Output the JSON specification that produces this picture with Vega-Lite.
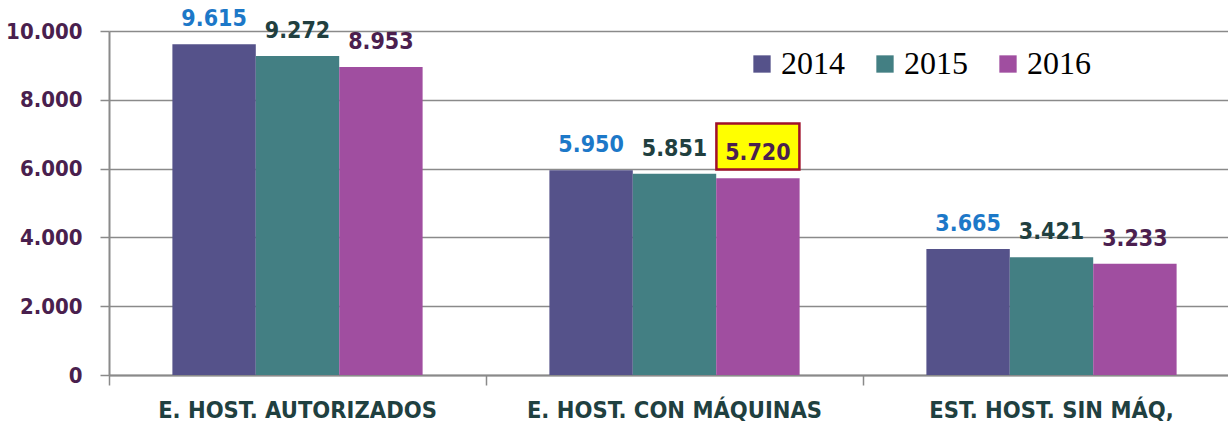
{
  "$schema": "https://vega.github.io/schema/vega-lite/v6.json",
  "width": 1119,
  "height": 344,
  "autosize": {"type": "none"},
  "padding": {"left": 109, "top": 31, "right": 0, "bottom": 57},
  "background": "white",
  "config": {
    "view": {"stroke": null},
    "locale": {"number": {"decimal": ",", "thousands": ".", "grouping": [3], "currency": ["", " €"]}}
  },
  "data": {
    "values": [
      {"category": "E. HOST. AUTORIZADOS", "year": "2014", "value": 9615},
      {"category": "E. HOST. AUTORIZADOS", "year": "2015", "value": 9272},
      {"category": "E. HOST. AUTORIZADOS", "year": "2016", "value": 8953},
      {"category": "E. HOST. CON MÁQUINAS", "year": "2014", "value": 5950},
      {"category": "E. HOST. CON MÁQUINAS", "year": "2015", "value": 5851},
      {"category": "E. HOST. CON MÁQUINAS", "year": "2016", "value": 5720},
      {"category": "EST. HOST. SIN MÁQ,", "year": "2014", "value": 3665},
      {"category": "EST. HOST. SIN MÁQ,", "year": "2015", "value": 3421},
      {"category": "EST. HOST. SIN MÁQ,", "year": "2016", "value": 3233}
    ]
  },
  "encoding": {
    "x": {
      "field": "category", "type": "nominal", "sort": null,
      "scale": {"range": [0, 1131], "paddingInner": 0, "paddingOuter": 0},
      "axis": {
        "title": null, "labelAngle": 0, "bandPosition": 0, "labelLimit": 0,
        "tickSize": 10, "tickColor": "#8a8a8a", "tickWidth": 1.5,
        "domainColor": "#8a8a8a", "domainWidth": 2,
        "labelFont": "DejaVu Sans Condensed, Liberation Sans", "labelFontWeight": "bold",
        "labelFontSize": 23.5, "labelColor": "#1f4040", "labelPadding": 13
      }
    },
    "xOffset": {
      "field": "year", "type": "nominal",
      "scale": {"paddingInner": 0, "paddingOuter": 0.76}
    },
    "y": {
      "field": "value", "type": "quantitative",
      "scale": {"domain": [0, 10000], "nice": false},
      "axis": {
        "title": null, "values": [0, 2000, 4000, 6000, 8000, 10000], "format": ",.0f",
        "grid": true, "gridColor": "#8a8a8a", "gridWidth": 1.5,
        "domainColor": "#8a8a8a", "domainWidth": 2,
        "tickSize": 9, "tickColor": "#8a8a8a", "tickWidth": 1.5,
        "labelFont": "DejaVu Sans Condensed, Liberation Sans", "labelFontWeight": "bold",
        "labelFontSize": 22, "labelColor": "#4a1f4e", "labelPadding": 18
      }
    }
  },
  "layer": [
    {
      "mark": {"type": "bar"},
      "encoding": {
        "color": {
          "field": "year", "type": "nominal",
          "scale": {"domain": ["2014", "2015", "2016"], "range": ["#55528a", "#437f83", "#a04ea0"]},
          "legend": {
            "title": null, "orient": "none", "direction": "horizontal",
            "legendX": 637, "legendY": 17, "padding": 0,
            "symbolType": "square", "symbolSize": 300, "symbolStrokeWidth": 0,
            "labelFont": "Liberation Serif", "labelFontSize": 32, "labelColor": "#000000",
            "labelOffset": 3, "columnPadding": 24, "symbolOpacity": 1
          }
        }
      }
    },
    {
      "transform": [{"filter": "datum.category === 'E. HOST. CON MÁQUINAS' && datum.year === '2016'"}],
      "mark": {
        "type": "point", "filled": true, "opacity": 1,
        "shape": "M-2.075,-2.74H2.075V-0.44H-2.075Z",
        "size": 1600, "fill": "#ffff00", "stroke": "#a0102a", "strokeWidth": 2.5, "strokeOpacity": 1, "fillOpacity": 1
      }
    },
    {
      "mark": {"type": "text", "baseline": "alphabetic", "dy": -18, "font": "DejaVu Sans Condensed, Liberation Sans", "fontWeight": "bold", "fontSize": 23},
      "encoding": {
        "text": {"field": "value", "type": "quantitative", "format": ",.0f"},
        "color": {
          "field": "year", "type": "nominal",
          "scale": {"domain": ["2014", "2015", "2016"], "range": ["#1c78c8", "#213f3f", "#4b1f4f"]},
          "legend": null
        }
      }
    }
  ],
  "resolve": {"scale": {"color": "independent"}}
}
